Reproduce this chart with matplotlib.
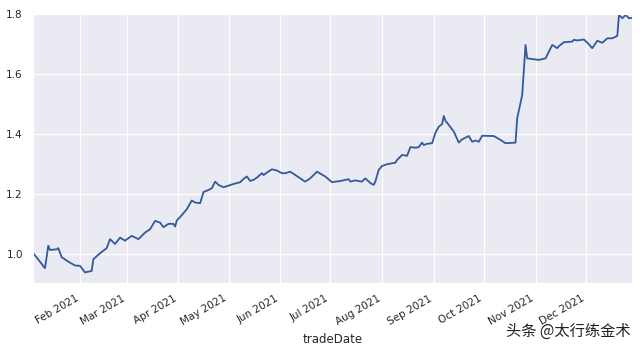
import matplotlib
matplotlib.use('Agg')
import matplotlib.pyplot as plt
import matplotlib.dates as mdates
import pandas as pd
import seaborn as sns

trade_dates = [
    '2021-01-04', '2021-01-08', '2021-01-11', '2021-01-13', '2021-01-14', '2021-01-18', '2021-01-19',
    '2021-01-21', '2021-01-25', '2021-01-29', '2021-02-01', '2021-02-04', '2021-02-08', '2021-02-09',
    '2021-02-13', '2021-02-17', '2021-02-19', '2021-02-22', '2021-02-25', '2021-02-28', '2021-03-04',
    '2021-03-08', '2021-03-12', '2021-03-15', '2021-03-18', '2021-03-21', '2021-03-23', '2021-03-26',
    '2021-03-29', '2021-03-30', '2021-03-31', '2021-04-03', '2021-04-06', '2021-04-09', '2021-04-11',
    '2021-04-14', '2021-04-16', '2021-04-19', '2021-04-21', '2021-04-23', '2021-04-25', '2021-04-28',
    '2021-05-04', '2021-05-08', '2021-05-10', '2021-05-12', '2021-05-14', '2021-05-16', '2021-05-18',
    '2021-05-21', '2021-05-22', '2021-05-24', '2021-05-27', '2021-05-30', '2021-06-02', '2021-06-04',
    '2021-06-07', '2021-06-10', '2021-06-13', '2021-06-15', '2021-06-16', '2021-06-19', '2021-06-23',
    '2021-06-28', '2021-07-02', '2021-07-07', '2021-07-12', '2021-07-13', '2021-07-16', '2021-07-20',
    '2021-07-22', '2021-07-25', '2021-07-27', '2021-07-28', '2021-07-30', '2021-08-01', '2021-08-04',
    '2021-08-07', '2021-08-09', '2021-08-10', '2021-08-13', '2021-08-16', '2021-08-18', '2021-08-21',
    '2021-08-23', '2021-08-25', '2021-08-26', '2021-08-28', '2021-08-31', '2021-09-02', '2021-09-04',
    '2021-09-06', '2021-09-07', '2021-09-08', '2021-09-10', '2021-09-13', '2021-09-16', '2021-09-18',
    '2021-09-22', '2021-09-24', '2021-09-26', '2021-09-28', '2021-09-30', '2021-10-07', '2021-10-11',
    '2021-10-14', '2021-10-20', '2021-10-21', '2021-10-24', '2021-10-26', '2021-10-27', '2021-10-31',
    '2021-11-03', '2021-11-07', '2021-11-10', '2021-11-11', '2021-11-14', '2021-11-15', '2021-11-18',
    '2021-11-23', '2021-11-24', '2021-11-26', '2021-11-30', '2021-12-03', '2021-12-05', '2021-12-08',
    '2021-12-11', '2021-12-14', '2021-12-17', '2021-12-20', '2021-12-21', '2021-12-23', '2021-12-25',
    '2021-12-27', '2021-12-29',
]
nav = [
    1.002, 0.974, 0.952, 1.027, 1.013, 1.015, 1.019,
    0.989, 0.974, 0.961, 0.960, 0.938, 0.943, 0.982,
    1.002, 1.019, 1.049, 1.033, 1.054, 1.044, 1.060,
    1.049, 1.071, 1.082, 1.110, 1.104, 1.089, 1.100,
    1.100, 1.091, 1.111, 1.129, 1.149, 1.178, 1.171,
    1.169, 1.206, 1.213, 1.219, 1.241, 1.230, 1.222,
    1.233, 1.239, 1.250, 1.258, 1.243, 1.247, 1.254,
    1.269, 1.263, 1.271, 1.282, 1.278, 1.269, 1.269,
    1.274, 1.263, 1.252, 1.244, 1.241, 1.252, 1.274,
    1.258, 1.239, 1.243, 1.249, 1.241, 1.245, 1.241,
    1.252, 1.236, 1.230, 1.241, 1.280, 1.293, 1.299,
    1.302, 1.304, 1.313, 1.330, 1.327, 1.356, 1.354,
    1.356, 1.371, 1.363, 1.367, 1.369, 1.404, 1.424,
    1.433, 1.460, 1.444, 1.430, 1.408, 1.371, 1.382,
    1.393, 1.374, 1.378, 1.374, 1.394, 1.393, 1.380,
    1.369, 1.371, 1.452, 1.530, 1.697, 1.652, 1.649,
    1.647, 1.652, 1.686, 1.697, 1.686, 1.693, 1.706,
    1.708, 1.714, 1.712, 1.715, 1.699, 1.686, 1.711,
    1.704, 1.719, 1.719, 1.727, 1.797, 1.786, 1.797,
    1.786, 1.787,
]

sns.set_style('darkgrid')
plt.rcParams['font.family'] = ['DejaVu Sans']

df = pd.DataFrame({'tradeDate': pd.to_datetime(trade_dates), 'nav': nav})

fig = plt.figure(figsize=(6.4, 3.51), dpi=100)
ax = fig.add_axes([0.052, 0.194, 0.936, 0.766])
ax.plot(df['tradeDate'], df['nav'], color='#34599a', linewidth=1.3)

ax.set_xlim(df['tradeDate'].iloc[0], df['tradeDate'].iloc[-1])
ax.set_ylim(0.903, 1.8)
ax.set_yticks([1.0, 1.2, 1.4, 1.6, 1.8])
ax.xaxis.set_major_locator(mdates.MonthLocator())
ax.xaxis.set_major_formatter(mdates.DateFormatter('%b %Y'))
for lbl in ax.get_xticklabels():
    lbl.set_rotation(30)
    lbl.set_ha('right')
ax.tick_params(axis='both', labelsize=7.5, colors='#262626', pad=4)
ax.set_xlabel('tradeDate', fontsize=8.5, color='#262626')

fig.text(0.985, 0.055, '头条 @太行练金术', ha='right', va='center', fontsize=11,
         color='#222222', family=['Noto Sans CJK SC', 'DejaVu Sans'])

fig.savefig('out.png', dpi=100)
